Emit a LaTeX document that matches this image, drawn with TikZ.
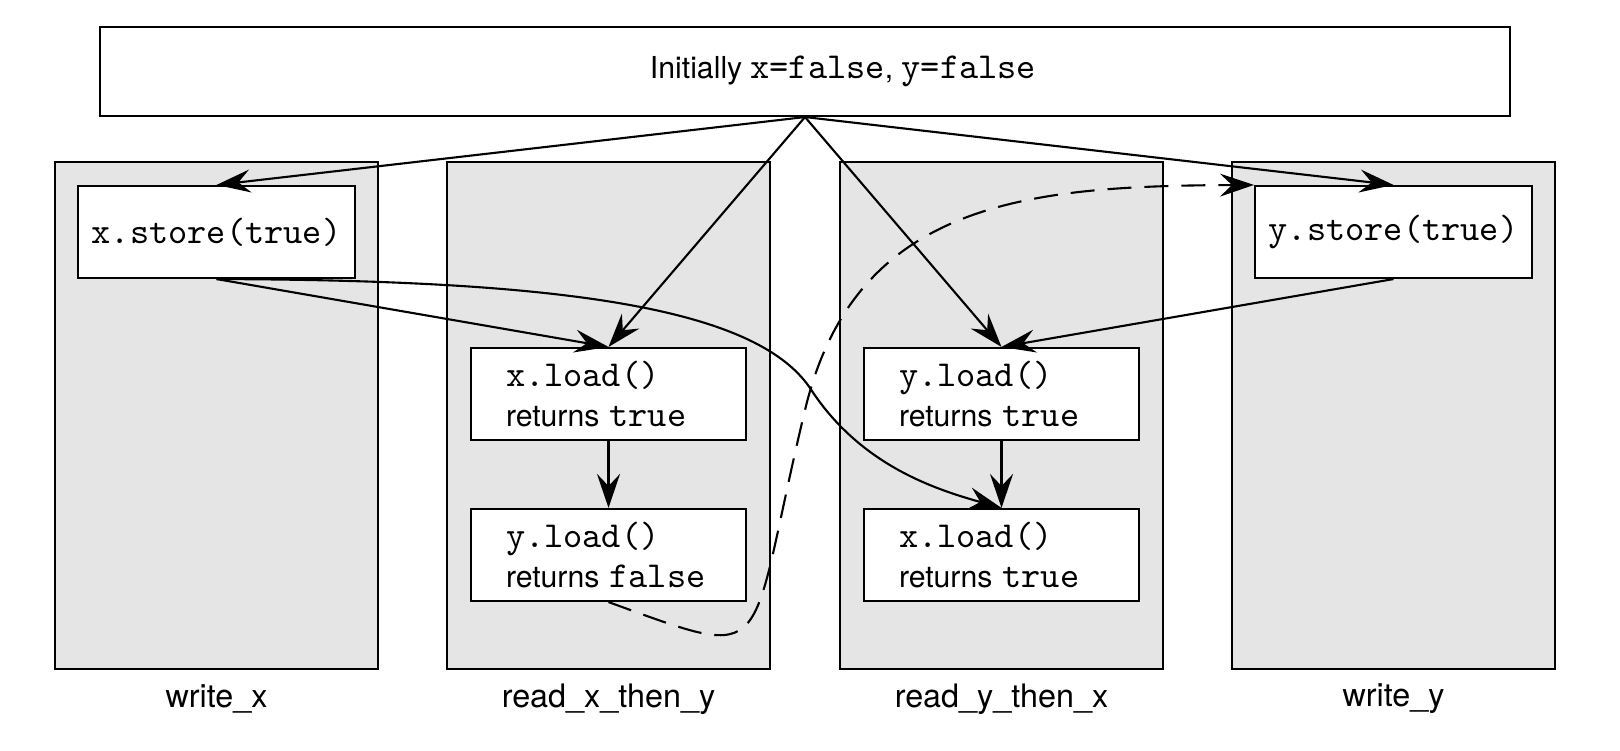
\documentclass[tikz,border=0pt]{standalone}
\usepackage{fontspec}
\setmainfont{TeX Gyre Heros}
\usepackage{tikz}
\usetikzlibrary{positioning,arrows.meta}

\newcommand{\mono}[1]{{\fontsize{10.4}{11.4}\selectfont\ttfamily #1}}

\begin{document}
\begin{tikzpicture}[
  font=\fontsize{8.6}{11.4}\selectfont,
  col/.style={draw, line width=0.6pt, fill=black!10, minimum width=3.23cm, minimum height=5.07cm},
  op/.style={draw, line width=0.6pt, fill=white, minimum width=2.77cm, minimum height=0.92cm, inner sep=0pt},
  ld/.style={draw, line width=0.6pt, fill=white, text width=2.05cm, inner xsep=0.35cm, minimum height=0.92cm, align=left},
  lbl/.style={font=\fontsize{9.2}{11}\selectfont},
  arr/.style={-{Stealth[length=3.4mm, width=2.3mm, inset=1.2mm]}, line width=0.6pt}
]

\useasboundingbox (0,0) rectangle (16.2,7.5);

% initial values
\node[draw, line width=0.6pt, minimum width=14.1cm, minimum height=0.89cm] (init) at (8.05,6.785) {\hspace*{0.76cm}Initially \mono{x=false}, \mono{y=false}};

% the four threads
\node[col] (wx) at (2.165,3.345) {};
\node[col] (rxy) at (6.085,3.345) {};
\node[col] (ryx) at (10.015,3.345) {};
\node[col] (wy) at (13.935,3.345) {};

\node[lbl] (lwx) at (2.165,0.51) {write\_x};
\node[lbl] (lrxy) at (6.085,0.51) {read\_x\_then\_y};
\node[lbl] (lryx) at (10.015,0.51) {read\_y\_then\_x};
\node[lbl] (lwy) at (13.935,0.51) {write\_y};

\node[op] (xs) at (2.165,5.18) {\mono{x.store(true)}};
\node[op] (ys) at (13.935,5.18) {\mono{y.store(true)}};

\node[ld] (rxy1) at (6.085,3.56) {\mono{x.load()}\\returns \mono{true}};
\node[ld] (rxy2) at (6.085,1.95) {\mono{y.load()}\\returns \mono{false}};
\node[ld] (ryx1) at (10.015,3.56) {\mono{y.load()}\\returns \mono{true}};
\node[ld] (ryx2) at (10.015,1.95) {\mono{x.load()}\\returns \mono{true}};

\draw[arr] (init.south) -- (xs.north);
\draw[arr] (init.south) -- (rxy1.north);
\draw[arr] (init.south) -- (ryx1.north);
\draw[arr] (init.south) -- (ys.north);

\draw[arr] (xs.south) -- (rxy1.north);
\draw[arr] (ys.south) -- (ryx1.north);
\draw[arr] (rxy1) -- (rxy2);
\draw[arr] (ryx1) -- (ryx2);

% x.store seen by the second load
\coordinate (sturn) at (8.10,3.62);
\draw[arr] (xs.south) .. controls (5.60,4.70) and (7.55,4.43) .. (sturn) .. controls (8.595,2.853) and (9.34,2.61) .. (ryx2.north);

% false load happens before y.store
\coordinate (dturn) at (8.05,3.40);
\draw[arr, dash pattern=on 2.4mm off 1.3mm] (rxy2.south) .. controls (7.782,0.864) and (7.45,0.9) .. (dturn) .. controls (8.55,5.5) and (10.3,5.64) .. (ys.north west);

\end{tikzpicture}
\end{document}
